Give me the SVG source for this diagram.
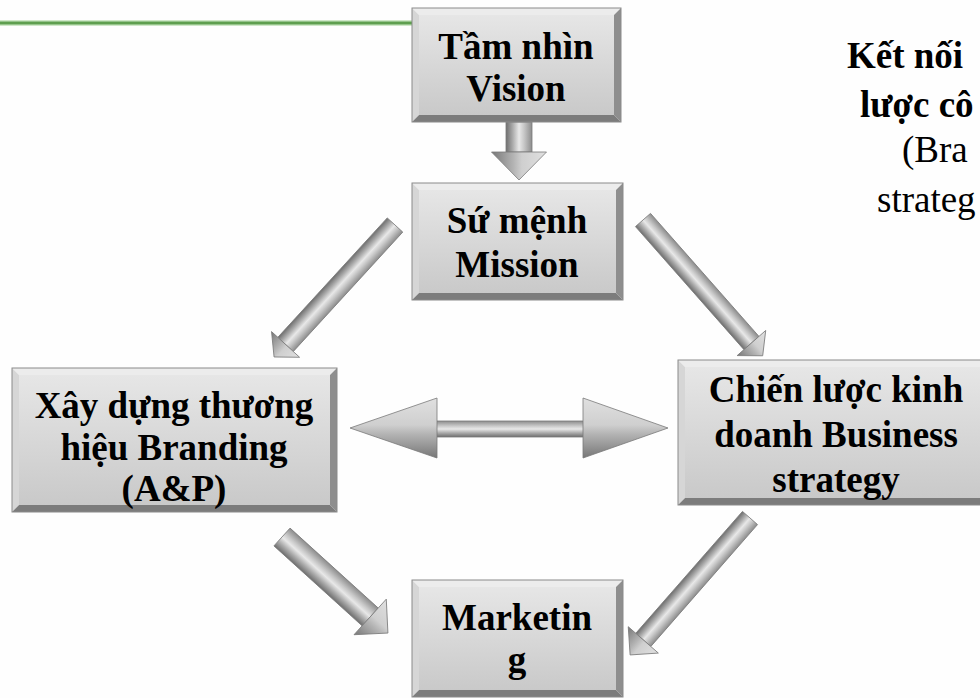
<svg xmlns="http://www.w3.org/2000/svg" width="980" height="698" viewBox="0 0 980 698">
<defs>
<style>
.bt{fill:#ececec}.bl{fill:#d6d6d6}.br{fill:#8e8e8e}.bb{fill:#7c7c7c}
.edge{fill:none;stroke:#8a8a8a;stroke-width:1}
.face{fill:url(#faceG)}
.t{font-family:"Liberation Serif","Times New Roman",serif;font-weight:bold;font-size:37px;fill:#000;text-anchor:middle}
.r{font-family:"Liberation Serif","Times New Roman",serif;font-size:37px;fill:#000}
.shaft{fill:url(#shaftG);stroke:#7a7a7a;stroke-width:0.8}
.head{fill:url(#headG);stroke:#7a7a7a;stroke-width:0.8}
</style>
<linearGradient id="faceG" x1="0" y1="0" x2="0" y2="1">
<stop offset="0" stop-color="#e6e6e6"/><stop offset="1" stop-color="#c9c9c9"/>
</linearGradient>
<linearGradient id="shaftG" x1="0" y1="0" x2="0" y2="1">
<stop offset="0" stop-color="#8c8c8c"/><stop offset="0.3" stop-color="#c6c6c6"/><stop offset="0.5" stop-color="#e8e8e8"/><stop offset="0.75" stop-color="#a9a9a9"/><stop offset="1" stop-color="#6e6e6e"/>
</linearGradient>
<linearGradient id="headG" x1="0" y1="0" x2="0" y2="1">
<stop offset="0" stop-color="#e0e0e0"/><stop offset="0.45" stop-color="#cfcfcf"/><stop offset="0.6" stop-color="#b4b4b4"/><stop offset="1" stop-color="#777777"/>
</linearGradient>
</defs>
<rect width="980" height="698" fill="#fefefe"/>
<line x1="0" y1="23" x2="414" y2="23" stroke="#cfe8c8" stroke-width="6"/>
<line x1="0" y1="23" x2="414" y2="23" stroke="#5f9f4f" stroke-width="3"/>

<g id="connectors">
<g transform="translate(519,122) rotate(90)"><rect class="shaft" x="0" y="-13" width="30" height="26"/><polygon class="head" points="30,-27.5 58,0 30,27.5"/></g>
<g transform="translate(395,225) rotate(132.5)"><rect class="shaft" x="0" y="-10.5" width="162" height="21"/><polygon class="head" points="162,-19 179,0 162,19"/></g>
<g transform="translate(643,220) rotate(48.6)"><rect class="shaft" x="0" y="-10" width="164" height="20"/><polygon class="head" points="164,-19 181,0 164,19"/></g>
<g transform="translate(282,537) rotate(42.2)"><rect class="shaft" x="0" y="-12" width="119" height="24"/><polygon class="head" points="119,-24 143,0 119,24"/></g>
<g transform="translate(750,518) rotate(131.2)"><rect class="shaft" x="0" y="-10" width="162" height="20"/><polygon class="head" points="162,-20 182,0 162,20"/></g>
<g><rect class="shaft" x="436" y="421" width="148" height="16"/><polygon class="head" points="350,428 437,398 437,458"/><polygon class="head" points="583,398 668,428 583,458"/></g>
</g>

<g id="vision">
<polygon class="bt" points="412,8 621,8 614,15 419,15"/><polygon class="bl" points="412,8 419,15 419,115 412,122"/><polygon class="br" points="621,8 621,122 614,115 614,15"/><polygon class="bb" points="412,122 621,122 614,115 419,115"/>
<rect class="face" x="419" y="15" width="195" height="100"/><rect class="edge" x="412" y="8" width="209" height="114"/>
<text class="t" x="516" y="59">Tầm nhìn</text><text class="t" x="516" y="101">Vision</text>
</g>

<g id="mission">
<polygon class="bt" points="412,183 623,183 616,190 419,190"/><polygon class="bl" points="412,183 419,190 419,293 412,300"/><polygon class="br" points="623,183 623,300 616,293 616,190"/><polygon class="bb" points="412,300 623,300 616,293 419,293"/>
<rect class="face" x="419" y="190" width="197" height="103"/><rect class="edge" x="412" y="183" width="211" height="117"/>
<text class="t" x="517" y="233">Sứ mệnh</text><text class="t" x="517" y="277">Mission</text>
</g>

<g id="branding">
<polygon class="bt" points="12,368 337,368 330,375 19,375"/><polygon class="bl" points="12,368 19,375 19,505 12,512"/><polygon class="br" points="337,368 337,512 330,505 330,375"/><polygon class="bb" points="12,512 337,512 330,505 19,505"/>
<rect class="face" x="19" y="375" width="311" height="130"/><rect class="edge" x="12" y="368" width="325" height="144"/>
<text class="t" x="174" y="418">Xây dựng thương</text><text class="t" x="174" y="460">hiệu Branding</text><text class="t" x="174" y="501">(A&amp;P)</text>
</g>

<g id="business">
<polygon class="bt" points="678,360 994,360 987,367 685,367"/><polygon class="bl" points="678,360 685,367 685,498 678,505"/><polygon class="br" points="994,360 994,505 987,498 987,367"/><polygon class="bb" points="678,505 994,505 987,498 685,498"/>
<rect class="face" x="685" y="367" width="302" height="131"/><rect class="edge" x="678" y="360" width="316" height="145"/>
<text class="t" x="836" y="402">Chiến lược kinh</text><text class="t" x="836" y="447">doanh Business</text><text class="t" x="836" y="492">strategy</text>
</g>

<g id="marketing">
<polygon class="bt" points="412,580 623,580 616,587 419,587"/><polygon class="bl" points="412,580 419,587 419,690 412,697"/><polygon class="br" points="623,580 623,697 616,690 616,587"/><polygon class="bb" points="412,697 623,697 616,690 419,690"/>
<rect class="face" x="419" y="587" width="197" height="103"/><rect class="edge" x="412" y="580" width="211" height="117"/>
<text class="t" x="517" y="630">Marketin</text><text class="t" x="517" y="672">g</text>
</g>

<g id="title">
<text class="r" x="847" y="68" font-weight="bold">Kết nối</text>
<text class="r" x="860" y="117" font-weight="bold">lược cô</text>
<text class="r" x="902" y="162">(Bra</text>
<text class="r" x="877" y="212">strateg</text>
</g>
</svg>
